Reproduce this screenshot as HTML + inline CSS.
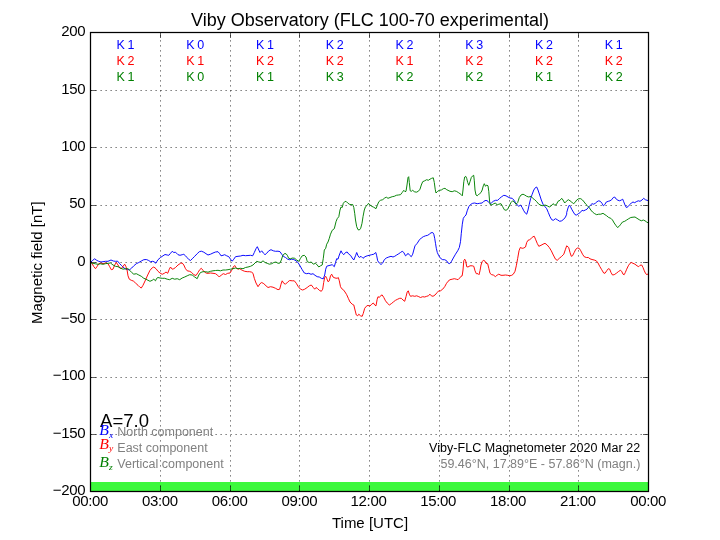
<!DOCTYPE html>
<html><head><meta charset="utf-8"><title>Viby Observatory</title>
<style>
html,body{margin:0;padding:0;background:#fff;}
body{width:720px;height:540px;overflow:hidden;font-family:"Liberation Sans",sans-serif;}
svg{display:block;font-family:"Liberation Sans",sans-serif;will-change:transform;opacity:0.9999;}
.grid line{stroke:#000;stroke-width:0.625;stroke-dasharray:1.25 3.75;}
.ticks line{stroke:#000;stroke-width:0.625;}
.tl text{font-size:15px;fill:#000;letter-spacing:-0.34px;}
.kt text{font-size:12.5px;text-anchor:middle;letter-spacing:-0.4px;}
.cv path{fill:none;stroke-width:0.95;stroke-linejoin:round;}
</style></head><body>
<svg width="720" height="540" viewBox="0 0 720 540">
<rect x="0" y="0" width="720" height="540" fill="#fff"/>
<rect x="90.5" y="482" width="558" height="9.5" fill="#3df83d"/>
<g class="grid"><line x1="160.5" y1="491.50" x2="160.5" y2="32.50"/><line x1="230.5" y1="491.50" x2="230.5" y2="32.50"/><line x1="299.5" y1="491.50" x2="299.5" y2="32.50"/><line x1="369.5" y1="491.50" x2="369.5" y2="32.50"/><line x1="439.5" y1="491.50" x2="439.5" y2="32.50"/><line x1="509.5" y1="491.50" x2="509.5" y2="32.50"/><line x1="578.5" y1="491.50" x2="578.5" y2="32.50"/><line x1="90.50" y1="434.5" x2="648.50" y2="434.5"/><line x1="90.50" y1="377.5" x2="648.50" y2="377.5"/><line x1="90.50" y1="319.5" x2="648.50" y2="319.5"/><line x1="90.50" y1="262.5" x2="648.50" y2="262.5"/><line x1="90.50" y1="205.5" x2="648.50" y2="205.5"/><line x1="90.50" y1="147.5" x2="648.50" y2="147.5"/><line x1="90.50" y1="90.5" x2="648.50" y2="90.5"/></g>
<g class="cv">
<path d="M91.0 262.0 L92.7 260.3 L94.7 258.8 L96.7 260.3 L98.7 261.3 L101.0 262.0 L103.0 261.7 L105.5 261.3 L108.0 261.3 L111.0 260.0 L113.3 261.0 L115.5 261.3 L117.7 261.2 L119.7 263.7 L121.3 265.3 L123.0 267.0 L125.0 268.7 L127.2 269.7 L129.7 269.7 L131.7 268.0 L133.8 265.8 L136.3 263.7 L138.8 262.5 L141.3 261.0 L143.8 259.7 L146.3 259.5 L148.3 260.3 L150.5 261.7 L152.7 261.3 L154.7 262.0 L155.5 263.3 L156.7 261.7 L158.0 259.7 L160.5 257.5 L163.0 255.8 L165.0 254.5 L167.2 255.0 L168.8 255.3 L170.5 253.3 L172.2 251.3 L173.8 252.5 L175.5 252.2 L178.0 254.7 L180.0 255.3 L182.2 254.7 L183.8 254.3 L185.5 255.8 L187.2 257.7 L188.8 259.5 L190.5 260.5 L192.2 258.8 L194.7 256.3 L197.2 253.7 L199.3 251.7 L201.3 251.2 L203.8 252.2 L206.0 253.7 L208.0 255.0 L210.5 254.2 L213.0 253.0 L215.5 252.0 L218.0 251.7 L219.7 253.7 L221.0 255.8 L223.0 255.3 L224.7 254.7 L226.7 255.8 L228.8 256.7 L230.5 259.2 L232.2 261.2 L233.8 259.2 L235.5 256.7 L238.0 256.3 L240.5 256.0 L243.0 255.3 L245.5 255.7 L248.0 255.5 L250.5 255.3 L252.7 255.8 L254.3 252.5 L256.0 248.7 L257.3 246.7 L258.8 250.0 L260.0 252.5 L261.7 250.8 L263.3 253.0 L265.0 254.7 L266.7 253.3 L268.8 250.8 L271.0 249.7 L273.3 250.8 L275.5 251.3 L278.0 251.2 L280.0 251.7 L281.7 254.2 L283.3 256.3 L285.5 257.5 L287.7 259.2 L289.7 259.7 L291.7 259.2 L293.8 259.5 L296.0 260.8 L298.0 262.5 L300.0 265.8 L302.2 269.7 L304.3 273.0 L306.7 273.7 L308.8 273.3 L311.0 274.3 L313.0 273.7 L315.0 275.3 L317.2 276.7 L319.3 277.0 L321.3 278.3 L323.3 278.8 L324.7 275.0 L325.7 269.2 L326.7 266.3 L328.0 265.8 L330.0 265.3 L332.2 264.7 L334.3 266.7 L335.5 262.5 L336.7 258.7 L338.0 259.2 L339.3 255.0 L341.0 250.8 L342.3 253.3 L343.8 254.7 L345.5 252.5 L347.2 252.0 L348.8 254.2 L350.5 255.3 L352.2 258.0 L353.8 260.0 L355.5 255.8 L356.7 252.5 L358.0 255.8 L359.3 257.5 L361.0 256.3 L363.0 258.3 L365.0 256.7 L367.2 255.8 L369.3 255.3 L371.7 254.7 L373.8 254.2 L375.8 252.5 L376.7 255.8 L377.7 260.8 L379.3 263.0 L381.0 264.5 L382.7 263.0 L384.3 259.7 L386.3 258.0 L388.8 257.0 L391.0 256.3 L393.0 257.0 L394.7 256.3 L396.7 255.0 L398.8 253.7 L400.5 252.5 L402.2 251.3 L403.8 252.5 L405.5 255.8 L406.7 255.0 L408.0 253.3 L409.7 255.3 L411.3 256.7 L412.7 254.2 L413.8 250.0 L415.0 245.8 L417.2 243.3 L419.3 240.0 L421.3 238.0 L423.3 236.7 L425.5 235.8 L427.7 235.3 L429.3 234.2 L431.0 232.8 L432.7 232.5 L433.8 234.2 L434.7 238.3 L435.5 243.3 L436.3 248.3 L437.3 252.5 L438.8 255.8 L440.5 258.3 L442.7 259.7 L444.7 259.7 L446.7 260.8 L448.0 263.0 L449.7 263.7 L451.3 261.7 L453.3 258.0 L455.5 254.2 L457.7 250.8 L459.3 247.5 L460.5 241.7 L461.3 233.3 L462.3 224.2 L463.3 218.3 L464.7 216.3 L466.0 215.0 L467.2 210.8 L468.8 206.7 L470.5 204.5 L472.7 203.3 L474.7 203.0 L477.2 203.7 L479.7 203.3 L482.2 203.0 L483.8 201.3 L486.0 200.3 L488.0 201.3 L489.7 203.3 L491.3 203.0 L493.3 201.3 L495.5 200.3 L497.7 200.3 L499.7 198.3 L501.7 196.7 L503.8 195.3 L506.0 195.8 L508.0 197.0 L510.0 198.0 L512.2 198.3 L513.8 200.0 L515.5 202.5 L517.2 205.0 L518.8 206.3 L520.5 205.0 L522.2 207.5 L523.8 210.8 L525.5 213.3 L526.7 214.2 L528.0 210.0 L529.3 204.2 L530.7 198.3 L532.2 194.2 L533.8 190.0 L535.5 187.5 L536.7 187.0 L538.0 190.0 L539.7 195.0 L541.3 200.0 L543.0 204.2 L545.0 206.7 L546.7 208.7 L548.3 212.5 L550.0 216.7 L551.7 219.7 L553.3 220.3 L555.5 218.7 L557.7 220.0 L559.7 221.3 L561.7 220.8 L563.8 219.2 L565.5 217.0 L566.7 214.2 L566.7 212.5 L568.0 208.0 L569.2 205.3 L570.3 206.3 L571.7 209.2 L573.3 212.0 L575.0 214.7 L576.7 215.0 L578.3 213.7 L580.3 212.5 L582.0 210.3 L583.7 210.8 L585.3 210.0 L587.0 209.2 L588.7 207.0 L590.3 205.3 L592.0 203.7 L593.7 204.2 L595.3 203.3 L597.0 201.7 L598.7 200.8 L600.3 201.3 L602.0 203.3 L603.3 205.8 L604.7 204.7 L606.3 202.0 L608.3 201.3 L610.0 200.8 L611.7 199.7 L613.3 197.5 L614.7 197.0 L616.3 199.2 L618.0 200.3 L619.7 200.8 L621.3 200.0 L622.7 199.2 L623.7 201.7 L625.0 205.0 L626.3 207.5 L628.0 206.7 L629.7 204.7 L631.3 203.0 L633.0 202.0 L634.7 202.7 L636.3 201.7 L638.3 200.8 L640.0 201.3 L642.0 200.0 L643.7 198.3 L645.3 199.7 L647.0 200.3 L648.0 200.5" stroke="#0000ff"/>
<path d="M91.0 262.0 L92.2 263.7 L93.8 266.7 L95.5 268.7 L97.2 266.3 L98.8 263.7 L101.0 263.0 L103.0 263.7 L105.5 263.0 L108.0 263.7 L109.7 266.7 L111.3 269.7 L113.0 269.2 L114.7 265.0 L116.3 262.5 L118.0 265.0 L119.7 268.0 L121.3 268.7 L123.0 266.3 L124.7 264.2 L126.0 266.7 L127.2 270.8 L128.0 275.8 L129.3 279.2 L131.3 280.3 L133.3 281.0 L135.5 283.0 L138.0 285.3 L140.0 287.3 L141.3 288.0 L143.0 285.3 L145.5 280.0 L147.7 275.0 L150.0 270.3 L152.2 267.8 L153.8 267.0 L156.0 268.7 L158.0 271.3 L160.0 273.0 L162.2 274.3 L164.3 273.3 L166.0 272.0 L167.7 273.3 L169.3 269.2 L170.5 267.0 L172.2 269.2 L173.8 268.7 L175.5 267.5 L178.0 265.0 L180.5 263.3 L182.2 263.0 L183.8 265.0 L185.5 268.7 L187.2 270.8 L189.7 271.3 L191.7 272.5 L193.8 274.7 L196.0 275.5 L198.0 272.5 L199.7 269.7 L201.3 268.3 L203.0 270.3 L204.7 272.2 L206.7 273.3 L208.0 273.3 L210.5 273.0 L213.0 273.3 L215.5 273.7 L217.7 275.3 L219.3 277.0 L221.3 275.0 L223.3 273.7 L225.5 274.5 L227.7 273.3 L230.0 273.0 L231.7 270.3 L233.3 267.0 L234.7 265.5 L236.0 267.5 L237.7 269.2 L239.7 268.7 L242.2 270.3 L244.7 271.3 L247.2 271.7 L249.7 271.7 L251.7 272.2 L253.0 273.3 L254.3 278.3 L256.0 283.0 L258.0 286.7 L260.0 283.7 L261.7 282.5 L263.8 283.7 L266.0 285.8 L268.0 287.5 L270.5 286.7 L273.0 287.2 L275.5 288.3 L278.0 289.7 L279.7 289.2 L281.0 284.2 L282.2 280.8 L283.8 283.3 L285.5 284.2 L287.7 282.0 L289.7 280.5 L292.2 280.8 L294.3 280.8 L296.3 283.3 L298.3 286.7 L300.5 289.2 L302.7 290.0 L304.7 289.2 L307.2 287.5 L309.3 285.8 L311.3 285.0 L313.3 287.5 L314.7 289.2 L316.0 287.5 L317.7 288.7 L319.3 290.3 L321.3 291.3 L322.7 289.2 L323.7 282.5 L324.7 277.5 L325.7 276.3 L326.7 278.3 L328.0 281.7 L329.3 280.8 L330.5 275.8 L331.7 274.2 L333.0 277.0 L335.0 278.0 L337.2 278.3 L338.3 277.5 L339.3 280.8 L340.5 286.7 L341.7 288.7 L343.3 289.7 L345.0 292.0 L346.7 294.7 L348.3 298.3 L350.0 302.0 L352.2 304.2 L353.8 305.0 L355.0 310.0 L356.3 315.0 L357.7 315.8 L358.8 314.2 L360.5 315.8 L362.2 316.3 L363.3 313.3 L364.7 308.3 L366.3 306.3 L368.0 305.3 L369.7 306.3 L371.7 304.2 L373.3 303.0 L375.0 305.3 L376.0 305.8 L377.2 299.2 L378.0 296.7 L379.3 297.5 L381.0 295.3 L382.2 295.0 L383.8 297.5 L385.5 300.8 L387.2 303.0 L389.3 305.0 L391.3 303.7 L393.3 302.0 L395.5 300.3 L397.7 299.2 L399.7 298.3 L401.3 298.3 L403.0 300.0 L404.7 301.3 L406.0 296.7 L407.2 292.0 L408.3 290.8 L409.3 294.2 L410.5 296.3 L412.7 295.8 L414.7 296.3 L416.7 295.8 L418.8 296.7 L420.5 297.5 L422.7 296.7 L424.7 297.0 L426.7 296.3 L428.3 295.8 L430.0 294.2 L431.3 295.8 L433.0 296.3 L435.0 295.0 L437.2 292.5 L438.8 290.8 L440.5 290.8 L442.7 289.2 L444.7 286.7 L446.3 283.7 L448.0 281.3 L450.0 279.7 L452.2 279.2 L454.3 278.7 L456.3 279.2 L458.0 279.7 L459.7 278.0 L461.0 276.3 L462.2 275.8 L463.0 270.0 L463.8 260.8 L464.7 259.2 L465.7 260.8 L466.7 266.7 L468.0 267.0 L470.0 265.8 L472.2 265.8 L473.8 266.3 L475.0 270.8 L476.3 273.7 L478.0 273.7 L479.0 274.7 L480.0 270.8 L481.0 265.0 L482.2 261.7 L483.3 260.3 L484.7 260.8 L486.0 263.3 L487.7 263.7 L488.8 268.3 L490.0 273.3 L491.7 274.7 L493.3 275.0 L495.5 276.7 L497.2 275.0 L498.8 274.2 L501.0 275.3 L503.0 275.3 L505.5 275.0 L507.7 275.3 L509.7 275.8 L511.7 275.3 L513.3 274.2 L515.0 271.3 L516.3 265.8 L517.7 258.3 L519.0 250.8 L520.3 247.5 L522.2 248.3 L523.8 248.0 L525.5 247.0 L526.7 242.5 L528.0 240.3 L529.7 239.7 L531.3 238.3 L533.0 236.7 L534.3 236.3 L535.5 239.2 L537.2 243.3 L538.8 246.3 L541.0 245.3 L543.0 244.2 L545.0 243.3 L547.2 245.0 L549.3 247.5 L551.3 250.8 L553.3 255.0 L555.5 259.2 L557.2 260.3 L559.3 258.3 L561.3 256.7 L563.8 254.2 L565.5 249.2 L566.7 245.8 L568.7 247.5 L570.0 252.5 L571.3 256.3 L572.5 255.8 L574.2 252.5 L575.8 249.2 L577.5 248.0 L579.2 248.3 L580.8 250.8 L582.5 254.2 L584.2 256.7 L586.3 257.5 L588.3 257.5 L590.0 258.8 L592.0 259.5 L594.2 260.0 L596.3 260.8 L598.0 263.0 L599.7 266.3 L601.7 269.7 L603.7 273.0 L605.0 273.3 L606.7 270.8 L608.3 268.7 L609.7 269.2 L611.0 272.5 L612.5 275.0 L614.2 274.7 L616.3 273.3 L618.3 271.7 L620.3 270.3 L621.7 271.3 L623.0 274.2 L624.2 274.7 L625.3 272.5 L626.7 269.2 L628.3 265.8 L630.0 263.3 L631.3 262.5 L633.0 263.3 L635.0 264.2 L637.0 265.8 L638.7 266.7 L640.0 265.3 L641.7 265.0 L643.0 267.5 L644.3 270.8 L645.7 273.7 L647.0 274.7 L648.0 273.8" stroke="#ff0000"/>
<path d="M91.0 263.0 L93.0 263.3 L95.5 263.8 L98.0 264.3 L100.5 263.8 L103.0 264.3 L105.5 263.7 L108.0 263.3 L110.5 263.0 L113.0 265.0 L115.5 266.3 L118.0 266.7 L120.5 268.0 L123.0 269.2 L125.5 268.7 L128.0 268.7 L129.7 270.3 L131.7 272.5 L133.8 274.2 L136.3 273.7 L138.8 275.0 L141.3 276.3 L143.8 278.3 L146.0 279.2 L148.0 280.3 L150.0 281.3 L152.2 280.3 L153.8 279.2 L155.5 280.8 L156.7 278.3 L158.0 277.5 L160.0 278.0 L162.2 278.3 L164.7 278.3 L167.2 279.2 L169.7 279.7 L172.2 278.3 L174.7 279.2 L177.2 278.7 L179.7 279.7 L182.2 278.0 L184.7 277.0 L187.2 275.8 L189.7 274.7 L192.2 275.0 L194.7 277.0 L197.2 278.7 L198.8 275.0 L200.5 272.5 L203.0 271.7 L205.5 271.7 L208.0 272.2 L210.5 271.3 L213.0 270.8 L215.5 270.5 L218.0 270.3 L220.5 270.8 L223.0 270.0 L225.5 270.0 L228.0 269.7 L230.5 269.2 L233.0 268.7 L235.5 268.0 L238.0 268.7 L240.5 268.3 L243.0 268.7 L245.5 267.5 L248.0 267.0 L250.5 266.3 L253.0 265.0 L255.0 263.0 L256.7 261.3 L258.8 262.0 L261.0 262.5 L263.0 260.8 L265.0 262.5 L267.2 263.3 L269.3 264.2 L271.7 263.7 L273.8 262.5 L276.0 262.0 L278.0 263.3 L280.0 263.0 L281.3 260.0 L282.7 255.8 L284.3 253.7 L286.0 253.7 L287.3 255.3 L288.7 258.3 L290.5 258.7 L292.7 258.0 L294.7 258.3 L296.7 260.0 L298.8 261.3 L300.5 258.3 L302.2 255.8 L304.3 255.3 L306.0 257.0 L307.3 261.7 L309.3 262.5 L311.3 262.0 L313.3 264.2 L315.5 263.3 L317.2 265.0 L318.8 267.0 L320.5 265.8 L322.2 265.0 L323.3 258.3 L324.3 250.0 L325.7 248.3 L326.7 244.2 L328.0 242.0 L329.3 238.3 L330.5 234.2 L332.2 230.3 L334.3 228.7 L336.0 221.7 L337.2 218.7 L338.8 216.7 L340.0 210.0 L341.0 207.0 L342.2 207.5 L343.3 203.3 L344.7 201.7 L346.0 201.3 L347.7 203.0 L349.3 204.2 L351.0 204.7 L352.7 204.5 L353.8 207.5 L354.7 213.3 L355.5 220.0 L356.7 226.7 L358.0 229.7 L359.3 230.0 L360.7 228.3 L362.0 223.3 L363.0 216.7 L364.3 210.0 L365.5 206.7 L367.2 205.3 L368.5 203.3 L370.0 205.0 L371.7 206.3 L373.3 207.0 L375.0 208.0 L376.0 208.7 L377.3 205.3 L378.8 201.7 L380.5 200.3 L382.7 199.7 L384.7 198.0 L386.3 197.2 L388.0 198.3 L390.0 197.5 L392.2 196.7 L394.3 196.3 L396.3 195.3 L398.3 195.0 L400.5 194.7 L402.2 192.5 L403.8 190.3 L405.0 191.7 L406.0 191.3 L407.0 185.0 L408.0 177.5 L408.7 176.7 L409.3 182.5 L410.2 190.8 L411.3 191.3 L412.7 190.3 L414.3 191.7 L416.3 192.2 L418.3 191.3 L420.0 189.2 L421.3 185.0 L422.7 181.7 L424.7 180.8 L426.7 179.7 L428.3 180.3 L430.0 179.2 L431.7 178.3 L433.3 177.8 L434.3 182.5 L435.2 189.2 L436.0 193.0 L437.7 191.3 L439.3 190.3 L441.3 190.0 L443.3 188.7 L445.0 188.3 L446.7 189.7 L448.0 190.3 L450.0 191.3 L452.2 191.7 L454.3 190.8 L456.3 191.3 L458.3 192.5 L460.0 193.7 L461.3 194.7 L462.3 195.8 L463.0 190.0 L463.8 181.7 L464.7 177.0 L465.7 176.3 L466.7 178.3 L467.7 182.5 L468.8 185.3 L470.0 181.7 L471.3 177.5 L472.7 175.8 L473.7 175.3 L474.3 180.8 L475.0 190.0 L476.0 195.0 L477.2 195.8 L478.3 194.7 L479.7 193.7 L481.0 192.5 L482.2 190.0 L483.3 185.8 L484.3 183.7 L485.5 186.3 L486.7 185.0 L488.0 185.8 L488.8 191.7 L489.7 202.5 L490.5 205.0 L492.2 204.7 L493.8 203.7 L495.5 203.0 L497.2 205.0 L498.8 204.2 L501.0 203.7 L502.7 206.7 L504.3 209.7 L506.0 210.3 L507.7 209.2 L509.3 205.8 L511.0 202.5 L512.7 200.8 L514.3 202.0 L516.0 204.2 L517.7 202.5 L519.3 197.5 L521.0 195.0 L523.0 194.2 L524.7 195.0 L526.7 196.3 L528.8 197.0 L531.0 196.3 L532.7 198.3 L534.7 199.7 L536.7 201.7 L538.8 204.2 L541.0 205.3 L543.0 205.8 L545.0 205.0 L547.2 205.8 L549.3 207.0 L551.3 205.8 L553.0 203.7 L554.7 205.0 L556.3 204.7 L558.0 201.3 L560.0 200.3 L561.7 198.3 L563.0 200.0 L564.7 203.0 L566.3 201.3 L568.3 199.7 L570.0 200.8 L571.7 202.0 L573.3 203.7 L575.0 202.5 L576.7 200.0 L578.7 198.7 L580.8 198.7 L582.5 200.0 L584.2 202.0 L585.8 204.2 L587.5 205.8 L589.2 207.5 L590.8 210.0 L592.5 212.0 L594.7 213.7 L596.7 214.7 L598.7 214.2 L600.8 214.2 L603.0 213.3 L605.0 214.7 L606.7 215.8 L608.7 217.5 L610.8 218.3 L612.5 220.0 L614.2 223.0 L615.8 225.3 L617.5 227.5 L619.2 226.3 L620.8 224.2 L622.5 222.0 L624.7 221.3 L626.7 220.0 L628.7 218.7 L630.8 217.5 L633.0 217.2 L635.0 217.0 L637.0 218.3 L639.2 219.7 L641.3 220.8 L643.3 220.0 L645.0 220.8 L646.7 222.0 L648.0 222.8" stroke="#008000"/>
</g>
<g class="ticks"><line x1="90.5" y1="491.5" x2="90.5" y2="486.0"/><line x1="90.5" y1="32.5" x2="90.5" y2="38.0"/><line x1="160.5" y1="491.5" x2="160.5" y2="486.0"/><line x1="160.5" y1="32.5" x2="160.5" y2="38.0"/><line x1="230.5" y1="491.5" x2="230.5" y2="486.0"/><line x1="230.5" y1="32.5" x2="230.5" y2="38.0"/><line x1="299.5" y1="491.5" x2="299.5" y2="486.0"/><line x1="299.5" y1="32.5" x2="299.5" y2="38.0"/><line x1="369.5" y1="491.5" x2="369.5" y2="486.0"/><line x1="369.5" y1="32.5" x2="369.5" y2="38.0"/><line x1="439.5" y1="491.5" x2="439.5" y2="486.0"/><line x1="439.5" y1="32.5" x2="439.5" y2="38.0"/><line x1="509.5" y1="491.5" x2="509.5" y2="486.0"/><line x1="509.5" y1="32.5" x2="509.5" y2="38.0"/><line x1="578.5" y1="491.5" x2="578.5" y2="486.0"/><line x1="578.5" y1="32.5" x2="578.5" y2="38.0"/><line x1="648.5" y1="491.5" x2="648.5" y2="486.0"/><line x1="648.5" y1="32.5" x2="648.5" y2="38.0"/><line x1="90.5" y1="491.5" x2="96.0" y2="491.5"/><line x1="648.5" y1="491.5" x2="643.0" y2="491.5"/><line x1="90.5" y1="434.5" x2="96.0" y2="434.5"/><line x1="648.5" y1="434.5" x2="643.0" y2="434.5"/><line x1="90.5" y1="377.5" x2="96.0" y2="377.5"/><line x1="648.5" y1="377.5" x2="643.0" y2="377.5"/><line x1="90.5" y1="319.5" x2="96.0" y2="319.5"/><line x1="648.5" y1="319.5" x2="643.0" y2="319.5"/><line x1="90.5" y1="262.5" x2="96.0" y2="262.5"/><line x1="648.5" y1="262.5" x2="643.0" y2="262.5"/><line x1="90.5" y1="205.5" x2="96.0" y2="205.5"/><line x1="648.5" y1="205.5" x2="643.0" y2="205.5"/><line x1="90.5" y1="147.5" x2="96.0" y2="147.5"/><line x1="648.5" y1="147.5" x2="643.0" y2="147.5"/><line x1="90.5" y1="90.5" x2="96.0" y2="90.5"/><line x1="648.5" y1="90.5" x2="643.0" y2="90.5"/><line x1="90.5" y1="32.5" x2="96.0" y2="32.5"/><line x1="648.5" y1="32.5" x2="643.0" y2="32.5"/></g>
<rect x="90.5" y="32.5" width="558.0" height="459.0" fill="none" stroke="#000" stroke-width="1.25"/>
<text x="370" y="25.9" text-anchor="middle" font-size="18px" fill="#000">Viby Observatory (FLC 100-70 experimental)</text>
<g class="tl"><text x="90.2" y="506.3" text-anchor="middle">00:00</text><text x="159.9" y="506.3" text-anchor="middle">03:00</text><text x="229.7" y="506.3" text-anchor="middle">06:00</text><text x="299.4" y="506.3" text-anchor="middle">09:00</text><text x="368.5" y="506.3" text-anchor="middle">12:00</text><text x="438.2" y="506.3" text-anchor="middle">15:00</text><text x="508.0" y="506.3" text-anchor="middle">18:00</text><text x="577.8" y="506.3" text-anchor="middle">21:00</text><text x="648.2" y="506.3" text-anchor="middle">00:00</text><text x="85.2" y="495.2" text-anchor="end" letter-spacing="0">−200</text><text x="85.2" y="437.8" text-anchor="end" letter-spacing="0">−150</text><text x="85.2" y="380.4" text-anchor="end" letter-spacing="0">−100</text><text x="85.2" y="323.1" text-anchor="end" letter-spacing="0">−50</text><text x="85.2" y="265.7" text-anchor="end" letter-spacing="0">0</text><text x="85.2" y="208.3" text-anchor="end" letter-spacing="0">50</text><text x="85.2" y="151.0" text-anchor="end" letter-spacing="0">100</text><text x="85.2" y="93.6" text-anchor="end" letter-spacing="0">150</text><text x="85.2" y="36.2" text-anchor="end" letter-spacing="0">200</text></g>
<text x="370" y="527.5" text-anchor="middle" font-size="15px" fill="#000">Time [UTC]</text>
<text transform="translate(42.3,262.6) rotate(-90)" text-anchor="middle" font-size="15px" fill="#000">Magnetic field [nT]</text>
<g class="kt"><text x="125.4" y="48.8" fill="#0000ff">K 1</text><text x="125.4" y="64.8" fill="#ff0000">K 2</text><text x="125.4" y="80.8" fill="#008000">K 1</text><text x="195.1" y="48.8" fill="#0000ff">K 0</text><text x="195.1" y="64.8" fill="#ff0000">K 1</text><text x="195.1" y="80.8" fill="#008000">K 0</text><text x="264.9" y="48.8" fill="#0000ff">K 1</text><text x="264.9" y="64.8" fill="#ff0000">K 2</text><text x="264.9" y="80.8" fill="#008000">K 1</text><text x="334.6" y="48.8" fill="#0000ff">K 2</text><text x="334.6" y="64.8" fill="#ff0000">K 2</text><text x="334.6" y="80.8" fill="#008000">K 3</text><text x="404.4" y="48.8" fill="#0000ff">K 2</text><text x="404.4" y="64.8" fill="#ff0000">K 1</text><text x="404.4" y="80.8" fill="#008000">K 2</text><text x="474.1" y="48.8" fill="#0000ff">K 3</text><text x="474.1" y="64.8" fill="#ff0000">K 2</text><text x="474.1" y="80.8" fill="#008000">K 2</text><text x="543.9" y="48.8" fill="#0000ff">K 2</text><text x="543.9" y="64.8" fill="#ff0000">K 2</text><text x="543.9" y="80.8" fill="#008000">K 1</text><text x="613.6" y="48.8" fill="#0000ff">K 1</text><text x="613.6" y="64.8" fill="#ff0000">K 2</text><text x="613.6" y="80.8" fill="#008000">K 2</text></g>
<text x="100.1" y="427.4" font-size="18.5px" fill="#000">A=7.0</text>
<g font-size="12.5px" fill="#808080">
<text x="117.3" y="435.7">North component</text>
<text x="117.3" y="452.0">East component</text>
<text x="117.3" y="468.2">Vertical component</text>
</g>
<g font-family="Liberation Serif, serif" font-style="italic" font-size="14px" transform="translate(99.3,0) scale(1.13,1) translate(-99,0)">
<text x="99" y="435.3" fill="#0000ff">B<tspan font-size="8.5px" dy="2.5">x</tspan></text>
<text x="99" y="449.0" fill="#ff0000">B<tspan font-size="8.5px" dy="2.5">y</tspan></text>
<text x="99" y="467.2" fill="#008000">B<tspan font-size="8.5px" dy="2.5">z</tspan></text>
</g>
<text x="640.3" y="451.7" text-anchor="end" font-size="12.5px" fill="#000" letter-spacing="0.05px">Viby-FLC Magnetometer 2020 Mar 22</text>
<text x="640.3" y="467.5" text-anchor="end" font-size="12.5px" fill="#808080">59.46°N, 17.89°E - 57.86°N (magn.)</text>
</svg>
</body></html>
